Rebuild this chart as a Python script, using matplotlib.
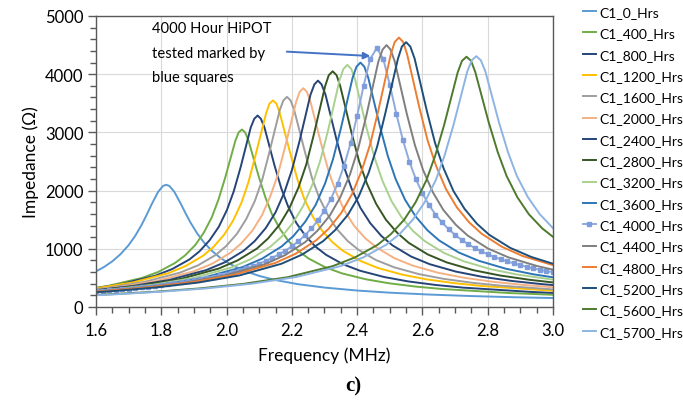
import numpy as np
import matplotlib
matplotlib.use('Agg')
import matplotlib.pyplot as plt

plt.rcParams['font.family'] = ['Lato', 'DejaVu Sans']

# impedance sweeps (frequency in MHz, impedance in ohm)
f_0 = [1.6, 1.625, 1.65, 1.675, 1.7, 1.72, 1.74, 1.755, 1.77, 1.79, 1.805, 1.815, 1.825, 1.84, 1.86, 1.875, 1.89,
       1.91, 1.93, 1.955, 1.98, 2.01, 2.05, 2.1, 2.15, 2.22, 2.3, 2.4, 2.5, 2.62, 2.75, 2.88, 3.0]
z_0 = [611, 689, 785, 907, 1063, 1221, 1414, 1581, 1759, 1976, 2079, 2100, 2079, 1979, 1771, 1603, 1446,
       1264, 1114, 965, 848, 740, 631, 534, 463, 391, 334, 283, 246, 214, 188, 168, 154]

f_400 = [1.6, 1.638, 1.740, 1.791, 1.842, 1.873, 1.904, 1.930, 1.955, 1.975, 1.996, 2.027, 2.037, 2.047, 2.057, 2.067,
         2.098, 2.119, 2.139, 2.164, 2.190, 2.221, 2.252, 2.303, 2.354, 2.426, 2.497, 2.579, 2.661, 2.866, 3.0]
z_400 = [329, 364, 498, 603, 756, 887, 1064, 1275, 1544, 1843, 2226, 2859, 2999, 3050, 2999, 2862,
         2252, 1884, 1595, 1336, 1131, 958, 831, 681, 577, 477, 408, 351, 309, 240, 210]

f_800 = [1.6, 1.676, 1.781, 1.833, 1.886, 1.917, 1.948, 1.976, 2.001, 2.022, 2.043, 2.074, 2.085, 2.095, 2.105, 2.116,
         2.147, 2.168, 2.189, 2.214, 2.242, 2.273, 2.305, 2.357, 2.409, 2.483, 2.556, 2.640, 2.724, 2.933, 3.0]
z_800 = [324, 392, 537, 651, 816, 956, 1147, 1376, 1665, 1988, 2401, 3084, 3235, 3290, 3235, 3087,
         2429, 2032, 1721, 1441, 1220, 1034, 896, 734, 623, 515, 440, 379, 333, 259, 242]

f_1200 = [1.6, 1.714, 1.821, 1.874, 1.928, 1.960, 1.992, 2.020, 2.046, 2.067, 2.088, 2.121, 2.131, 2.142, 2.153, 2.163,
          2.196, 2.217, 2.238, 2.264, 2.292, 2.324, 2.356, 2.410, 2.463, 2.538, 2.613, 2.699, 2.785, 3.0]
z_1200 = [323, 424, 580, 702, 880, 1032, 1238, 1484, 1797, 2145, 2591, 3327, 3490, 3550, 3491, 3331,
          2621, 2193, 1857, 1555, 1316, 1115, 967, 792, 672, 556, 475, 409, 360, 279]

f_1600 = [1.6, 1.639, 1.748, 1.857, 1.912, 1.967, 1.999, 2.032, 2.060, 2.087, 2.109, 2.130, 2.163, 2.174, 2.185, 2.196, 2.207,
          2.240, 2.261, 2.283, 2.310, 2.338, 2.371, 2.404, 2.458, 2.513, 2.589, 2.666, 2.753, 2.841, 3.0]
z_1600 = [307, 333, 431, 590, 714, 895, 1049, 1259, 1509, 1827, 2182, 2635, 3384, 3549, 3610, 3550, 3388,
          2665, 2230, 1888, 1582, 1338, 1134, 983, 806, 683, 565, 483, 416, 366, 302]

f_2000 = [1.6, 1.676, 1.788, 1.900, 1.956, 2.012, 2.045, 2.079, 2.108, 2.134, 2.157, 2.179, 2.213, 2.224, 2.235, 2.246, 2.257,
          2.291, 2.313, 2.336, 2.362, 2.391, 2.425, 2.459, 2.514, 2.570, 2.648, 2.727, 2.816, 2.906, 3.0]
z_2000 = [298, 347, 449, 614, 744, 933, 1093, 1311, 1572, 1903, 2272, 2744, 3524, 3697, 3760, 3698, 3528,
          2776, 2323, 1967, 1647, 1394, 1181, 1024, 839, 712, 588, 503, 433, 381, 339]

f_2400 = [1.6, 1.710, 1.824, 1.938, 1.995, 2.052, 2.086, 2.120, 2.150, 2.177, 2.200, 2.223, 2.257, 2.269, 2.280, 2.291, 2.303,
          2.337, 2.360, 2.383, 2.410, 2.440, 2.474, 2.508, 2.565, 2.622, 2.702, 2.782, 2.873, 2.964, 3.0]
z_2400 = [290, 359, 464, 635, 769, 965, 1131, 1356, 1626, 1969, 2351, 2839, 3646, 3825, 3890, 3825, 3650,
          2872, 2403, 2035, 1704, 1442, 1222, 1060, 868, 736, 609, 520, 448, 394, 377]

f_2800 = [1.6, 1.744, 1.860, 1.976, 2.034, 2.093, 2.127, 2.162, 2.192, 2.220, 2.244, 2.267, 2.302, 2.313, 2.325, 2.337, 2.348,
          2.383, 2.406, 2.430, 2.458, 2.488, 2.523, 2.558, 2.616, 2.674, 2.755, 2.837, 2.930, 3.0]
z_2800 = [285, 374, 483, 661, 801, 1004, 1177, 1412, 1693, 2050, 2447, 2956, 3796, 3982, 4050, 3983, 3801,
          2990, 2502, 2119, 1774, 1501, 1273, 1103, 904, 767, 634, 542, 466, 422]

f_3200 = [1.6, 1.659, 1.778, 1.896, 2.015, 2.074, 2.133, 2.169, 2.204, 2.235, 2.263, 2.287, 2.311, 2.346, 2.358, 2.370, 2.382, 2.394,
          2.429, 2.453, 2.477, 2.505, 2.536, 2.571, 2.607, 2.666, 2.726, 2.808, 2.891, 3.0]
z_3200 = [278, 308, 384, 496, 679, 823, 1032, 1209, 1451, 1739, 2105, 2514, 3036, 3899, 4090, 4160, 4091, 3904,
          3071, 2570, 2176, 1822, 1542, 1307, 1133, 929, 787, 651, 557, 470]

f_3600 = [1.6, 1.687, 1.808, 1.928, 2.049, 2.109, 2.169, 2.205, 2.241, 2.273, 2.302, 2.326, 2.350, 2.386, 2.398, 2.410, 2.422, 2.434,
          2.470, 2.494, 2.518, 2.547, 2.579, 2.615, 2.651, 2.711, 2.772, 2.856, 2.940, 3.0]
z_3600 = [269, 311, 388, 501, 686, 831, 1042, 1221, 1465, 1756, 2126, 2538, 3065, 3937, 4129, 4200, 4130, 3941,
          3100, 2594, 2197, 1840, 1557, 1320, 1144, 937, 795, 657, 562, 510]

# 4000 h sweep (HiPOT tested), one point every 0.02 MHz
f_4000 = np.linspace(1.6, 3.0, 71)
z_4000 = [271, 279, 288, 297, 307, 317, 328, 339, 351, 364,
          377, 392, 407, 423, 440, 458, 478, 499, 521, 546,
          572, 601, 632, 667, 704, 746, 793, 845, 903, 969,
          1044, 1131, 1232, 1350, 1490, 1658, 1863, 2115, 2428, 2816,
          3285, 3805, 4260, 4450, 4263, 3821, 3321, 2871, 2498, 2196,
          1952, 1753, 1589, 1453, 1338, 1239, 1154, 1080, 1015, 958,
          907, 861, 820, 783, 749, 718, 690, 664, 640, 617,
          597]

f_4400 = [1.6, 1.743, 1.868, 1.992, 2.117, 2.179, 2.241, 2.278, 2.316, 2.348, 2.378, 2.403, 2.428, 2.465, 2.478, 2.490, 2.502, 2.515,
          2.552, 2.577, 2.602, 2.632, 2.664, 2.702, 2.739, 2.801, 2.864, 2.951, 3.0]
z_4400 = [266, 333, 415, 537, 735, 890, 1116, 1308, 1569, 1881, 2277, 2719, 3284, 4218, 4424, 4500, 4425, 4223,
          3322, 2780, 2354, 1971, 1668, 1414, 1226, 1004, 852, 704, 642]

f_4800 = [1.6, 1.643, 1.770, 1.896, 2.022, 2.149, 2.212, 2.275, 2.313, 2.351, 2.384, 2.414, 2.440, 2.465, 2.503, 2.515, 2.528, 2.541, 2.553,
          2.591, 2.616, 2.642, 2.672, 2.705, 2.743, 2.781, 2.844, 2.907, 3.0]
z_4800 = [264, 281, 343, 427, 552, 756, 916, 1148, 1346, 1614, 1936, 2343, 2798, 3379, 4340, 4552, 4630, 4553, 4345,
          3418, 2860, 2422, 2028, 1716, 1455, 1261, 1033, 876, 719]

f_5200 = [1.6, 1.658, 1.785, 1.913, 2.040, 2.168, 2.231, 2.295, 2.333, 2.372, 2.405, 2.435, 2.461, 2.486, 2.525, 2.537, 2.550, 2.563, 2.576,
          2.614, 2.639, 2.665, 2.695, 2.729, 2.767, 2.805, 2.869, 2.933, 3.0]
z_5200 = [254, 276, 337, 420, 543, 743, 900, 1128, 1323, 1587, 1902, 2303, 2750, 3321, 4265, 4474, 4550, 4474, 4270,
          3359, 2811, 2380, 1993, 1687, 1430, 1239, 1016, 861, 743]

f_5600 = [1.6, 1.641, 1.778, 1.915, 2.051, 2.188, 2.325, 2.393, 2.462, 2.503, 2.544, 2.579, 2.612, 2.639, 2.667, 2.708, 2.721, 2.735, 2.749, 2.762,
          2.803, 2.831, 2.858, 2.891, 2.926, 2.967, 3.0]
z_5600 = [206, 218, 261, 318, 397, 513, 702, 851, 1066, 1250, 1499, 1798, 2176, 2598, 3138, 4030, 4228, 4300, 4229, 4035,
          3174, 2656, 2249, 1884, 1594, 1351, 1205]

f_5700 = [1.6, 1.659, 1.797, 1.936, 2.074, 2.212, 2.350, 2.419, 2.489, 2.530, 2.571, 2.607, 2.641, 2.668, 2.696, 2.737, 2.751, 2.765, 2.779, 2.793,
          2.834, 2.862, 2.889, 2.923, 2.959, 3.0]
z_5700 = [202, 218, 262, 319, 398, 514, 704, 853, 1069, 1253, 1503, 1802, 2181, 2605, 3145, 4040, 4238, 4310, 4238, 4044,
          3182, 2662, 2255, 1888, 1598, 1354]

labels = ['C1_0_Hrs', 'C1_400_Hrs', 'C1_800_Hrs', 'C1_1200_Hrs', 'C1_1600_Hrs', 'C1_2000_Hrs',
          'C1_2400_Hrs', 'C1_2800_Hrs', 'C1_3200_Hrs', 'C1_3600_Hrs', 'C1_4000_Hrs', 'C1_4400_Hrs',
          'C1_4800_Hrs', 'C1_5200_Hrs', 'C1_5600_Hrs', 'C1_5700_Hrs']
freqs = [f_0, f_400, f_800, f_1200, f_1600, f_2000, f_2400, f_2800, f_3200, f_3600,
         f_4000, f_4400, f_4800, f_5200, f_5600, f_5700]
imps = [z_0, z_400, z_800, z_1200, z_1600, z_2000, z_2400, z_2800, z_3200, z_3600,
        z_4000, z_4400, z_4800, z_5200, z_5600, z_5700]

colors = ['#5B9BD5', '#70AD47', '#264478', '#FFC000', '#9E9E9E', '#F4B183',
          '#264478', '#375623', '#A9D18E', '#2E75B6', '#8FAADC', '#7F7F7F',
          '#ED7D31', '#1F4E79', '#4E7A2E', '#8DB4E2']

fig = plt.figure(figsize=(6.83, 4.06), dpi=100)
ax = fig.add_axes([96/683, 1 - 308/406, (553 - 96)/683, (308 - 17)/406])

for f, z, lab, c in zip(freqs, imps, labels, colors):
    if lab == 'C1_4000_Hrs':
        ax.plot(f, z, color=c, lw=1.4, marker='s', ms=2.6, mec='#7F9CDB', mfc='#7F9CDB', label=lab)
    else:
        ax.plot(f, z, color=c, lw=1.4, label=lab)

ax.set_xlim(1.6, 3.0)
ax.set_ylim(0, 5000)
ax.set_xticks(np.arange(1.6, 3.01, 0.2))
ax.set_xticks(np.arange(1.6, 3.01, 0.05), minor=True)
ax.set_yticks(np.arange(0, 5001, 1000))
ax.set_yticks(np.arange(0, 5001, 200), minor=True)
ax.set_xticklabels(['%.1f' % v for v in np.arange(1.6, 3.01, 0.2)])
ax.tick_params(which='major', length=6, width=1, color='#595959', labelsize=12, pad=3)
ax.tick_params(axis='x', which='major', pad=5)
ax.tick_params(which='minor', length=4, width=1, color='#595959')
ax.grid(True, which='major', color='#d9d9d9', lw=0.8)
ax.set_axisbelow(True)
for s in ax.spines.values():
    s.set_color('#595959')
    s.set_linewidth(1)

ax.set_xlabel('Frequency (MHz)', fontsize=12.5, labelpad=6)
ax.set_ylabel('Impedance (Ω)', fontsize=12.5, labelpad=4)

# note + arrow pointing at the 4000 h curve
ax.text(1.772, 4910, '4000 Hour HiPOT\ntested marked by\nblue squares', fontsize=10.6,
        va='top', ha='left', linespacing=1.95)
ax.annotate('', xy=(2.449, 4310), xytext=(2.176, 4390),
            arrowprops=dict(arrowstyle='-|>', color='#4472C4', lw=1.4, mutation_scale=10))

fig.legend(loc='upper left', bbox_to_anchor=(583/683, 1 - 7/406), frameon=False, fontsize=10,
           handlelength=0.9, handletextpad=0.25, labelspacing=0.67, borderpad=0,
           borderaxespad=0, numpoints=1)

fig.text(353/683, 1 - 386/406, 'c)', ha='center', va='center', fontsize=15,
         fontweight='bold', family='Liberation Serif')

fig.savefig('out.png', dpi=100)
